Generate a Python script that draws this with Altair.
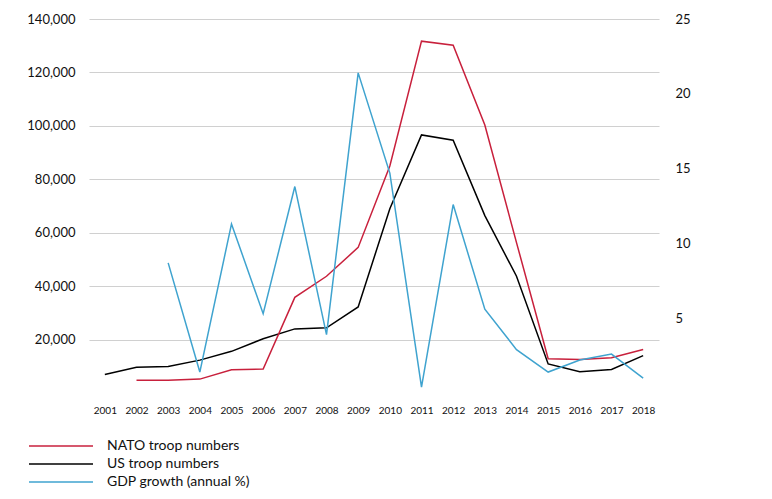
import altair as alt
import pandas as pd

years = list(range(2001, 2019))

us_troops = [6900, 9600, 9900, 12300, 15600, 20300, 24000, 24400, 32200, 69000,
             96600, 94600, 66400, 43700, 10900, 8000, 8800, 14000]
nato_troops = [None, 4800, 4800, 5200, 8700, 9000, 35800, 43700, 54500, 85000,
               131700, 130200, 100300, 56300, 12800, 12500, 13200, 16300]
gdp_growth = [None, None, 8.7, 1.4, 11.3, 5.3, 13.8, 3.9, 21.4, 14.7,
              0.4, 12.6, 5.6, 2.9, 1.4, 2.2, 2.6, 1.0]

series = ["NATO troop numbers", "US troop numbers", "GDP growth (annual %)"]
colors = ["#c8203c", "#000000", "#3fa3cf"]

rows = []
for i, yr in enumerate(years):
    if nato_troops[i] is not None:
        rows.append({"year": str(yr), "series": series[0], "troops": nato_troops[i]})
    rows.append({"year": str(yr), "series": series[1], "troops": us_troops[i]})
    if gdp_growth[i] is not None:
        rows.append({"year": str(yr), "series": series[2], "gdp": gdp_growth[i]})
df = pd.DataFrame(rows)

font = "Lato"

color = alt.Color(
    "series:N",
    scale=alt.Scale(domain=series, range=colors),
    legend=alt.Legend(
        title=None,
        orient="none",
        legendX=-35,
        legendY=420,
        symbolType="M-6.4,0L6.4,0",
        symbolSize=100,
        symbolStrokeWidth=1.5,
        labelOffset=39,
        labelFontSize=14,
        labelFont=font,
        labelColor="#111",
        rowPadding=4,
        padding=0,
    ),
)

x = alt.X(
    "year:O",
    title=None,
    scale=alt.Scale(type="point", padding=0.5),
    axis=alt.Axis(labelAngle=0, ticks=False, domain=False, labelFontSize=10,
                  labelPadding=12, labelFont=font, labelColor="#111"),
)

troops = alt.Chart(df).transform_filter("datum.troops != null").mark_line(
    strokeWidth=1.5
).encode(
    x=x,
    y=alt.Y(
        "troops:Q",
        title=None,
        scale=alt.Scale(domain=[0, 140000]),
        axis=alt.Axis(values=[20000, 40000, 60000, 80000, 100000, 120000, 140000],
                      format=",.0f", ticks=False, domain=False, labelPadding=14,
                      labelFontSize=13, labelFont=font, labelColor="#111",
                      gridColor="#d0d0d0", gridWidth=1.2),
    ),
    color=color,
)

gdp = alt.Chart(df).transform_filter("datum.gdp != null").mark_line(
    strokeWidth=1.5
).encode(
    x=x,
    y=alt.Y(
        "gdp:Q",
        title=None,
        scale=alt.Scale(domain=[0, 25]),
        axis=alt.Axis(orient="right", values=[5, 10, 15, 20, 25], grid=False,
                      ticks=False, domain=False, labelPadding=16,
                      labelFontSize=13, labelFont=font, labelColor="#111"),
    ),
    color=color,
)

chart = alt.layer(troops, gdp).resolve_scale(y="independent").properties(
    width=570,
    height=374,
    autosize=alt.AutoSizeParams(type="none"),
    padding={"left": 81, "top": 11, "right": 105, "bottom": 98},
).configure_view(stroke=None)

chart.save("out.html", embed_options={"renderer": "svg", "actions": False})
